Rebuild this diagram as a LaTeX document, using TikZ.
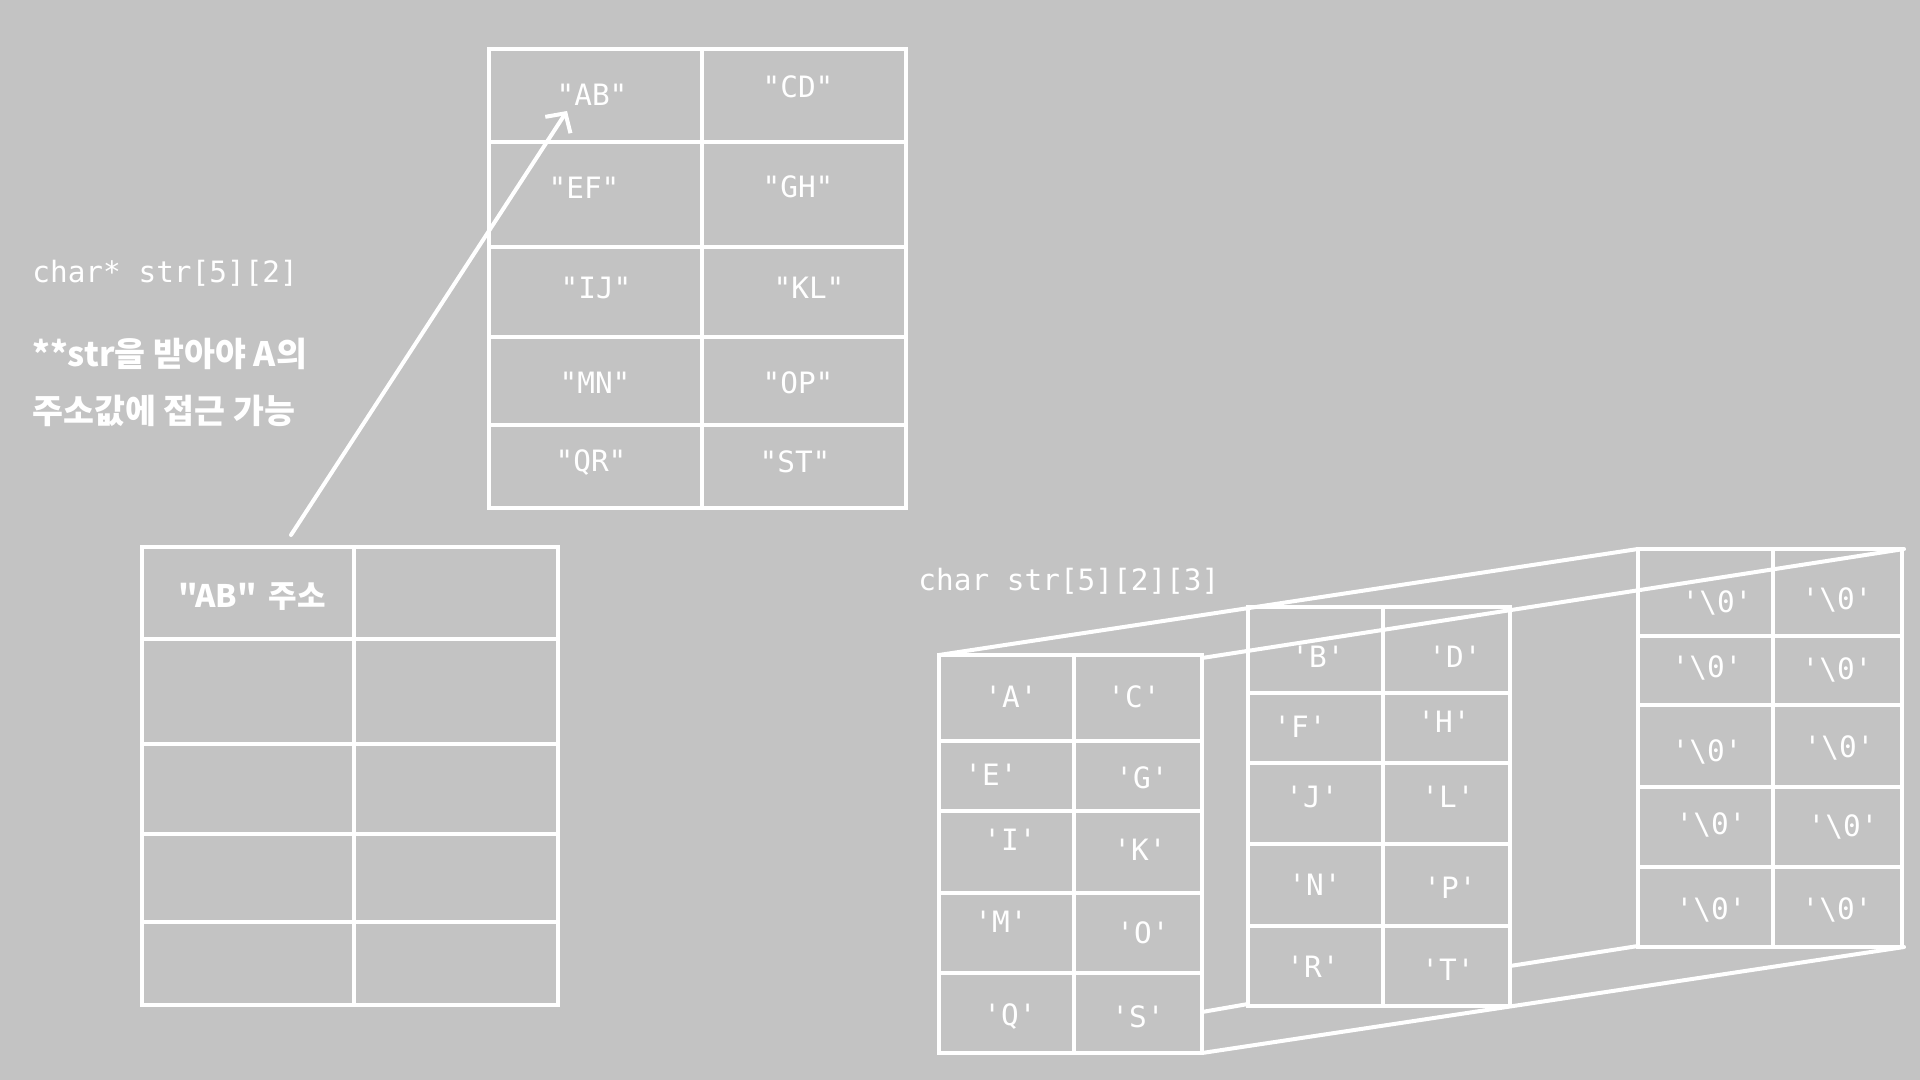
\documentclass[tikz,border=0pt]{standalone}
\usepackage{fontspec}
\setmonofont{DejaVu Sans Mono}
\newfontfamily\krfont{Noto Sans CJK KR}
\usetikzlibrary{arrows.meta}
\definecolor{board}{RGB}{195,195,195}

\begin{document}
\begin{tikzpicture}[x=0.5pt, y=-0.5pt,
      >={Straight Barb[length=7pt,width=15pt]},
      wire/.style={draw=white, line width=2pt, line cap=round},
      txt/.style={text=white, inner sep=0pt, font=\ttfamily\fontsize{14.7}{17}\selectfont},
      kr/.style={text=white, inner sep=0pt, anchor=west, font=\krfont\bfseries\fontsize{16.8}{19}\selectfont}]

  \fill[board] (0,0) rectangle (1920,1080);
  \useasboundingbox (0,0) rectangle (1920,1080);

  % left notes
  \node[txt, anchor=west] (decl2) at (32,273) {char* str[5][2]};
  \node[kr] (note1) at (32,354) {**str을 받아야 A의};
  \node[kr] (note2) at (32,411) {주소값에 접근 가능};

  % string table
  \draw[wire] (489,49) rectangle (906,508) (702,49) -- (702,508);
  \foreach \y in {142,247,337,425} \draw[wire] (489,\y) -- (906,\y);
  \foreach \x/\y/\t [count=\i] in {592/95/"AB", 798/87/"CD", 584/188/"EF", 798/187/"GH",
      596/288/"IJ", 809/288/"KL", 595/383/"MN", 798/383/"OP", 591/463/"QR", 795/462/"ST"}
    \node[txt] (str\i) at (\x,\y) {\t};

  % pointer table
  \draw[wire] (142,547) rectangle (558,1005) (354,547) -- (354,1005);
  \foreach \y in {639,744,834,922} \draw[wire] (142,\y) -- (558,\y);
  \node[kr, anchor=center, font=\krfont\bfseries\fontsize{15.5}{18}\selectfont]
    (abaddr) at (252,597) {"AB"\, 주소};

  \coordinate (addr) at (291,535);
  \coordinate (abtip) at (567,111);
  \draw[wire, ->] (addr) -- (abtip);

  % char str[5][2][3]
  \node[txt, anchor=west] (decl3) at (918,581) {char str[5][2][3]};

  % back layer
  \draw[wire] (1638,549) rectangle (1902,947) (1773,549) -- (1773,947);
  \foreach \y in {636,705,787,867} \draw[wire] (1638,\y) -- (1902,\y);
  \foreach \x/\y [count=\i] in {1717/603, 1837/600, 1707/668, 1837/670, 1707/752,
      1839/748, 1711/825, 1843/827, 1711/910, 1837/910}
    \node[txt] (nul\i) at (\x,\y) {'\textbackslash 0'};

  % middle layer
  \draw[wire] (1248,607) rectangle (1510,1006) (1383,607) -- (1383,1006);
  \foreach \y in {693,763,844,926} \draw[wire] (1248,\y) -- (1510,\y);
  \foreach \x/\y/\t [count=\i] in {1318/657/B, 1455/657/D, 1300/727/F, 1444/722/H, 1312/797/J,
      1448/797/L, 1315/885/N, 1450/888/P, 1313/967/R, 1448/970/T}
    \node[txt] (mid\i) at (\x,\y) {'\t'};

  % front layer
  \draw[wire] (939,655) rectangle (1202,1053) (1074,655) -- (1074,1053);
  \foreach \y in {741,811,893,973} \draw[wire] (939,\y) -- (1202,\y);
  \foreach \x/\y/\t [count=\i] in {1011/697/A, 1134/697/C, 991/775/E, 1142/778/G, 1010/840/I,
      1140/850/K, 1001/922/M, 1143/933/O, 1010/1017/Q, 1138/1017/S}
    \node[txt] (fr\i) at (\x,\y) {'\t'};

  % depth edges
  \coordinate (ftl) at (939,655);
  \coordinate (ftr) at (1202,658);
  \coordinate (fbr) at (1202,1053);
  \coordinate (fr)  at (1202,1012);
  \coordinate (ml)  at (1248,1004);
  \coordinate (mr)  at (1510,966);
  \coordinate (btl) at (1638,549);
  \coordinate (btr) at (1904,549);
  \coordinate (bbl) at (1638,946);
  \coordinate (bbr) at (1904,947);
  \draw[wire] (ftl) -- (btl) (ftr) -- (btr) (fbr) -- (bbr)
              (fr) -- (ml) (mr) -- (bbl);
\end{tikzpicture}
\end{document}
